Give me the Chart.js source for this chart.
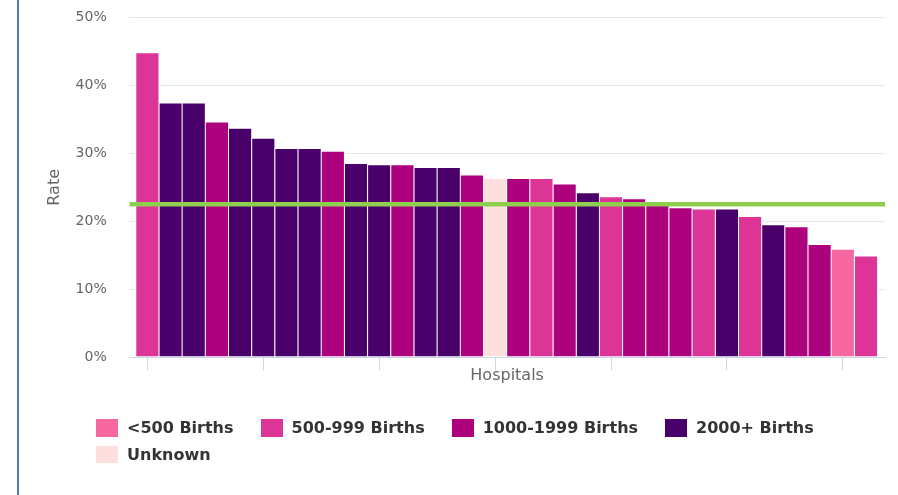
<!DOCTYPE html>
<html>
<head>
<meta charset="utf-8">
<script src="https://cdn.jsdelivr.net/npm/chart.js@4/dist/chart.umd.min.js"></script>
<style>
  html, body { margin: 0; padding: 0; background: #ffffff; }
  #frame {
    position: relative;
    width: 898px;
    height: 495px;
    overflow: hidden;
    background: #ffffff;
  }
  #frame::before {
    content: "";
    position: absolute;
    left: 17px;
    top: 0;
    width: 2px;
    height: 495px;
    background: #4a7ebe;
  }
  #chartBox { position: absolute; left: 0; top: 0; width: 898px; height: 495px; }
  #legend {
    position: absolute;
    left: 96px;
    top: 419px;
    width: 760px;
    display: flex;
    flex-wrap: wrap;
    column-gap: 27px;
    row-gap: 9px;
    font-family: "DejaVu Sans", sans-serif;
    font-weight: bold;
    font-size: 16px;
    color: #333333;
  }
  .item { display: flex; align-items: center; height: 17.6px; line-height: 17.6px; white-space: nowrap; }
  .swatch { width: 22px; height: 17.6px; margin-right: 9px; }
</style>
</head>
<body>
<div id="frame">
  <div id="chartBox"><canvas id="chart"></canvas></div>
  <div id="legend"></div>
</div>
<script>
// Hospital rates (%), sorted from highest to lowest
const rates = [44.8, 37.4, 37.4, 34.6, 33.7, 32.2, 30.7, 30.7, 30.3, 28.5, 28.3,
               28.3, 27.9, 27.9, 26.8, 26.3, 26.3, 26.3, 25.5, 24.2, 23.6, 23.3,
               22.9, 22.0, 21.8, 21.8, 20.7, 19.5, 19.2, 16.6, 15.9, 14.9];

// Birth-volume group of each hospital (index into groupNames)
const hospitalGroups = [1, 3, 3, 2, 3, 3, 3, 3, 2, 3, 3, 2, 3, 3, 2, 4,
                        2, 1, 2, 3, 1, 2, 2, 2, 1, 3, 1, 3, 2, 2, 0, 1];

const groupNames  = ['<500 Births', '500-999 Births', '1000-1999 Births', '2000+ Births', 'Unknown'];
const groupColors = ['#f768a1', '#dd3497', '#ae017e', '#49006a', '#fde0dd'];

// Overall rate drawn as a horizontal reference line
const averageRate = 22.5;

// Y axis tick values (%)
const yTicks = [0, 10, 20, 30, 40, 50];

const X_MIN = -0.78;
const X_MAX = rates.length - 0.18;
const FONT = '"DejaVu Sans", sans-serif';

const barSets = groupNames.map((name, g) => ({
  type: 'bar',
  label: name,
  order: 1,
  data: rates.map((r, i) => ({ x: i, y: r })).filter((p, i) => hospitalGroups[i] === g),
  backgroundColor: groupColors[g],
  borderColor: '#ffffff',
  borderWidth: 1,
  inflateAmount: 0.5,
  borderSkipped: false,
  grouped: false,
  barPercentage: 1,
  categoryPercentage: 1
}));

const averageLine = {
  type: 'line',
  label: 'Average',
  order: 0,
  data: [{ x: X_MIN, y: averageRate }, { x: X_MAX, y: averageRate }],
  borderColor: '#8fcf4f',
  borderWidth: 4.5,
  pointRadius: 0,
  fill: false
};

const chart = new Chart(document.getElementById('chart'), {
  type: 'bar',
  data: { datasets: [...barSets, averageLine] },
  options: {
    responsive: true,
    maintainAspectRatio: false,
    animation: false,
    layout: { padding: { top: 17.3, right: 13, bottom: 105.5, left: 0 } },
    plugins: {
      legend: { display: false },
      tooltip: { enabled: false }
    },
    scales: {
      x: {
        type: 'linear',
        min: X_MIN,
        max: X_MAX,
        offset: false,
        grid: {
          offset: false,
          drawOnChartArea: false,
          drawTicks: true,
          tickLength: 13,
          color: '#ccd6eb',
          lineWidth: 1
        },
        border: { display: true, color: '#ccd6eb', width: 1 },
        ticks: { display: false, stepSize: 5, includeBounds: false },
        title: {
          display: true,
          text: 'Hospitals',
          color: '#666666',
          font: { family: FONT, size: 16 },
          padding: { top: -4, bottom: 4 }
        }
      },
      y: {
        min: yTicks[0],
        max: yTicks[yTicks.length - 1],
        afterFit: (scale) => { scale.width = 129.3; },
        afterBuildTicks: (scale) => { scale.ticks = yTicks.map(v => ({ value: v })); },
        grid: {
          drawTicks: true,
          tickLength: 22.6,
          tickColor: 'rgba(0,0,0,0)',
          color: (ctx) => (ctx.tick && ctx.tick.value === 0) ? 'rgba(0,0,0,0)' : '#e6e6e6',
          lineWidth: 1
        },
        border: { display: false },
        ticks: {
          padding: 0,
          color: '#666666',
          font: { family: FONT, size: 14 },
          callback: (v) => v + '%'
        },
        title: {
          display: true,
          text: 'Rate',
          color: '#666666',
          font: { family: FONT, size: 16 },
          padding: { top: 45.4, bottom: 0 }
        }
      }
    }
  }
});

// Legend for the birth-volume groups
const legendEl = document.getElementById('legend');
chart.data.datasets.filter(ds => ds.type === 'bar').forEach(ds => {
  const item = document.createElement('div');
  item.className = 'item';
  const sw = document.createElement('span');
  sw.className = 'swatch';
  sw.style.background = ds.backgroundColor;
  const txt = document.createElement('span');
  txt.textContent = ds.label;
  item.appendChild(sw);
  item.appendChild(txt);
  legendEl.appendChild(item);
});
</script>
</body>
</html>
